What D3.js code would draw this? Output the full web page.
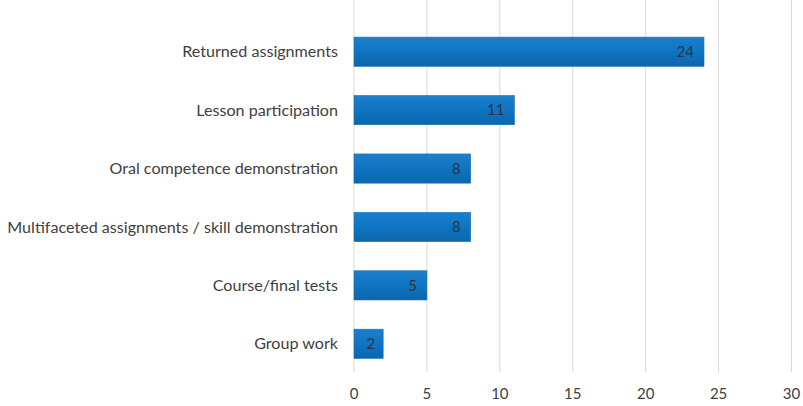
<!DOCTYPE html>
<html><head><meta charset="utf-8">
<script src="https://cdn.jsdelivr.net/npm/d3@7"></script>
<style>body{margin:0;background:#fff}svg{display:block}</style>
</head><body><svg id="c" width="803" height="406"></svg>
<script>
const categories = ["Returned assignments","Lesson participation","Oral competence demonstration","Multifaceted assignments / skill demonstration","Course/final tests","Group work"];
const values = [24, 11, 8, 8, 5, 2];
const ticks = [0, 5, 10, 15, 20, 25, 30];

const svg = d3.select("#c");
const x = d3.scaleLinear().domain([0, 30]).range([354, 791.5]);
const y = d3.scaleBand().domain(categories).range([22.5, 373]).paddingInner(0.5).paddingOuter(0.25);
const font = "Lato, 'Open Sans', sans-serif";

const defs = svg.append("defs");
const g = defs.append("linearGradient").attr("id","bg").attr("x1",0).attr("x2",0).attr("y1",0).attr("y2",1);
g.append("stop").attr("offset","0%").attr("stop-color","#1a7fcc");
g.append("stop").attr("offset","50%").attr("stop-color","#0f74c2");
g.append("stop").attr("offset","100%").attr("stop-color","#0b66ad");

svg.append("g").selectAll("line").data(ticks).join("line")
  .attr("x1", d => x(d)).attr("x2", d => x(d))
  .attr("y1", 0).attr("y2", 372)
  .attr("stroke", "#d9d9d9").attr("stroke-width", 1);

svg.append("g").selectAll("rect").data(values).join("rect")
  .attr("x", x(0)).attr("y", (d,i) => y(categories[i]))
  .attr("width", d => x(d) - x(0)).attr("height", y.bandwidth())
  .attr("fill", "url(#bg)").attr("stroke", "#1b6fb0").attr("stroke-width", 0.6);

svg.append("g").selectAll("text").data(values).join("text")
  .attr("x", d => x(d) - (d < 3 ? 8 : 10)).attr("y", (d,i) => y(categories[i]) + y.bandwidth()/2)
  .attr("dy", "0.35em").attr("text-anchor", "end")
  .attr("font-family", font).attr("font-size", 15).attr("fill", "#2b3440")
  .text(d => d);

const labels = svg.append("g").selectAll("text").data(categories).join("text")
  .attr("x", 338).attr("y", d => y(d) + y.bandwidth()/2)
  .attr("dy", "0.35em").attr("text-anchor", "end")
  .attr("font-family", font).attr("font-size", 15).attr("fill", "#404040")
  .text(d => d);
// fit font so the longest label spans the same width as in the reference (~331px)
let maxW = 0;
labels.each(function(){ maxW = Math.max(maxW, this.getComputedTextLength()); });
if (maxW > 0) labels.attr("font-size", 15 * 331 / maxW);

svg.append("g").selectAll("text").data(ticks).join("text")
  .attr("x", d => x(d)).attr("y", 394)
  .attr("dy", "0.35em").attr("text-anchor", "middle")
  .attr("font-family", font).attr("font-size", 15).attr("fill", "#404040")
  .text(d => d);
</script></body></html>
